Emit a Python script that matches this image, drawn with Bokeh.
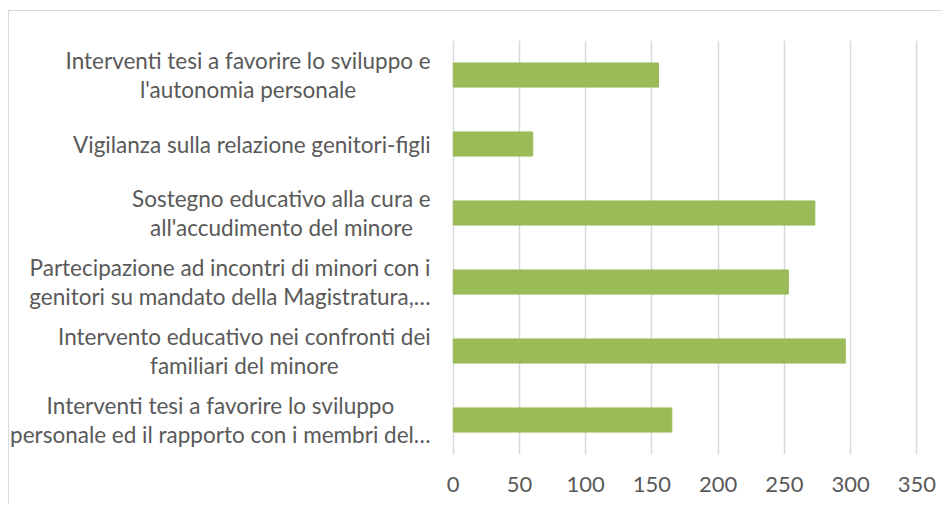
from bokeh.plotting import figure
from bokeh.models import ColumnDataSource, FactorRange, Range1d, FixedTicker
from bokeh.core.properties import value
from bokeh.embed import file_html
from bokeh.resources import INLINE

# Categories (bottom to top, as Excel orders them)
categories = [
    "Interventi tesi a favorire lo sviluppo\npersonale ed il rapporto con i membri del…",
    "Intervento educativo nei confronti dei\nfamiliari del minore",
    "Partecipazione ad incontri di minori con i\ngenitori su mandato della Magistratura,…",
    "Sostegno educativo alla cura e\nall'accudimento del minore",
    "Vigilanza sulla relazione genitori-figli",
    "Interventi tesi a favorire lo sviluppo e\nl'autonomia personale",
]
values = [165, 296, 253, 273, 60, 155]
x_ticks = [0, 50, 100, 150, 200, 250, 300, 350]

FONT = "Lato"
TEXT_COLOR = "#595959"
GRID_COLOR = "#D9D9D9"
BAR_COLOR = "#9BBB59"

src = ColumnDataSource(dict(cat=categories, val=values,
                            lx=[-17] * len(categories)))

p = figure(
    width=934, height=494,
    y_range=FactorRange(factors=categories),
    x_range=Range1d(-335, 352),
    output_backend="svg", toolbar_location=None,
    y_axis_location=None,
    min_border_left=0, min_border_right=24,
    min_border_top=29, min_border_bottom=51,
    styles={"border-left": "1px solid #D9D9D9",
            "border-top": "1px solid #D9D9D9",
            "margin-top": "10px", "margin-left": "8px"},
)
p.outline_line_color = None
p.background_fill_color = "white"
p.border_fill_color = "white"

p.hbar(y="cat", right="val", left=0, height=0.35, source=src,
       fill_color=BAR_COLOR, line_color=BAR_COLOR)

p.text(x="lx", y="cat", text="cat", source=src,
       anchor=value("center_right"), text_align="center",
       text_font=value(FONT), text_font_size="22.5px",
       text_color=TEXT_COLOR, text_line_height=1.07)

p.xaxis.ticker = FixedTicker(ticks=x_ticks)
p.xaxis.axis_line_color = None
p.xaxis.major_tick_line_color = None
p.xaxis.minor_tick_line_color = None
p.xaxis.major_label_text_font = FONT
p.xaxis.major_label_text_font_size = "22px"
p.xaxis.major_label_text_color = TEXT_COLOR
p.xaxis.major_label_standoff = 16

p.xgrid.ticker = FixedTicker(ticks=x_ticks)
p.xgrid.grid_line_color = GRID_COLOR
p.xgrid.grid_line_width = 1.5
p.ygrid.grid_line_color = None

open("out.html", "w").write(file_html(p, INLINE))
